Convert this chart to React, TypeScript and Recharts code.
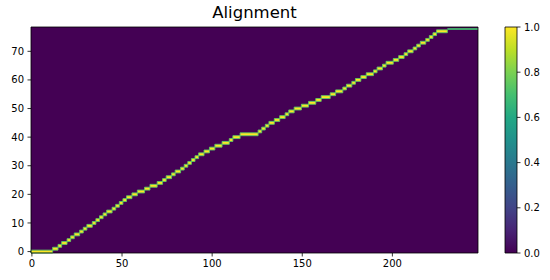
import { ComposedChart, ReferenceArea, Scatter, XAxis, YAxis } from "recharts";

const FONT = "'DejaVu Sans', sans-serif";

// first column of each row on the alignment path (row index = position)
const rowStart = [
  0, 12, 15, 17, 20, 22, 24, 27, 29, 31, 34, 36, 38, 40, 42, 45, 47, 49, 51, 53,
  56, 59, 63, 66, 70, 73, 75, 78, 80, 83, 85, 87, 89, 91, 93, 96, 99, 102, 106, 110,
  112, 116, 126, 128, 130, 132, 135, 138, 141, 143, 146, 150, 154, 158, 161, 166, 169, 173, 175, 178,
  180, 183, 186, 190, 192, 195, 197, 201, 204, 207, 209, 212, 214, 216, 219, 221, 223, 225, 231,
];
const nCols = 248;
const nRows = 79;
const tailRow = 78;
const tailLevel = 0.7;

const xTicks = [0, 50, 100, 150, 200];
const yTicks = [0, 10, 20, 30, 40, 50, 60, 70];
const cbarTicks = [0, 0.2, 0.4, 0.6, 0.8, 1.0];

const viridis = [
  "#440154", "#482475", "#414487", "#355f8d", "#2a788e", "#21918c",
  "#22a884", "#44bf70", "#7ad151", "#bddf26", "#fde725",
];

const colorAt = (v: number) => viridis[Math.round(v * 10)];

const segments = rowStart.map((start, row) => ({
  row,
  x: start,
  y: row,
  x1: start - 0.5,
  x2: (rowStart[row + 1] ?? nCols) - 0.5,
}));

const tick = { fill: "#000", fontSize: 10, fontFamily: FONT };

export default function App() {
  const xDom: [number, number] = [-0.5, nCols - 0.5];
  const yDom: [number, number] = [-0.5, nRows - 0.5];
  return (
    <div style={{ position: "fixed", left: 0, top: 0, width: 550, height: 280, background: "#fff" }}>
      <div
        style={{
          position: "absolute",
          left: 31,
          width: 447,
          top: 5,
          textAlign: "center",
          fontFamily: FONT,
          fontSize: 16.5,
          lineHeight: 1,
          color: "#000",
        }}
      >
        Alignment
      </div>
      <div style={{ position: "absolute", left: 0, top: 0 }}>
        <ComposedChart width={550} height={280} margin={{ top: 27, right: 72, bottom: 7, left: 0 }} data={segments}>
          <XAxis
            type="number"
            dataKey="x"
            domain={xDom}
            ticks={xTicks}
            allowDataOverflow
            interval={0}
            height={20}
            axisLine={false}
            tickLine={{ stroke: "#000", strokeWidth: 0.8 }}
            tickSize={3.5}
            tickMargin={3.5}
            tick={tick}
          />
          <YAxis
            type="number"
            dataKey="y"
            domain={yDom}
            ticks={yTicks}
            allowDataOverflow
            interval={0}
            width={31}
            axisLine={false}
            tickLine={{ stroke: "#000", strokeWidth: 0.8 }}
            tickSize={3.5}
            tickMargin={3.5}
            tick={tick}
          />
          <ReferenceArea
            x1={xDom[0]}
            x2={xDom[1]}
            y1={yDom[0]}
            y2={yDom[1]}
            fill={viridis[0]}
            fillOpacity={1}
            stroke="none"
            ifOverflow="visible"
          />
          {segments.map((s) => (
            <ReferenceArea
              key={s.row}
              x1={s.x1}
              x2={s.x2}
              y1={s.row - 0.5}
              y2={s.row + (s.row === tailRow ? 0.1 : 0.5)}
              fill={s.row === tailRow ? colorAt(tailLevel) : viridis[10]}
              fillOpacity={1}
              stroke={s.row === tailRow ? "none" : "#5cc863"}
              strokeWidth={0.9}
              ifOverflow="visible"
            />
          ))}
          <Scatter dataKey="y" fill="none" fillOpacity={0} isAnimationActive={false} />
          <ReferenceArea
            x1={xDom[0]}
            x2={xDom[1]}
            y1={yDom[0]}
            y2={yDom[1]}
            fill="none"
            stroke="#000"
            strokeWidth={0.8}
            ifOverflow="visible"
          />
        </ComposedChart>
      </div>
      <div style={{ position: "absolute", left: 490, top: 0 }}>
        <ComposedChart
          width={60}
          height={280}
          margin={{ top: 27, right: 0, bottom: 27, left: 15 }}
          data={cbarTicks.map((v) => ({ x: 0.5, v }))}
        >
          <defs>
            <linearGradient id="viridisBar" x1="0" y1="1" x2="0" y2="0">
              {viridis.map((c, i) => (
                <stop key={c} offset={i / (viridis.length - 1)} stopColor={c} />
              ))}
            </linearGradient>
          </defs>
          <XAxis type="number" dataKey="x" domain={[0, 1]} hide />
          <YAxis
            type="number"
            dataKey="v"
            orientation="right"
            domain={[0, 1]}
            ticks={cbarTicks}
            interval={0}
            width={33}
            axisLine={false}
            tickLine={{ stroke: "#000", strokeWidth: 0.8 }}
            tickSize={3.5}
            tickMargin={3.5}
            tick={tick}
            tickFormatter={(v: number) => v.toFixed(1)}
          />
          <ReferenceArea
            x1={0}
            x2={1}
            y1={0}
            y2={1}
            fill="url(#viridisBar)"
            fillOpacity={1}
            stroke="#000"
            strokeWidth={0.8}
            ifOverflow="visible"
          />
          <Scatter dataKey="v" fill="none" fillOpacity={0} isAnimationActive={false} />
        </ComposedChart>
      </div>
    </div>
  );
}
